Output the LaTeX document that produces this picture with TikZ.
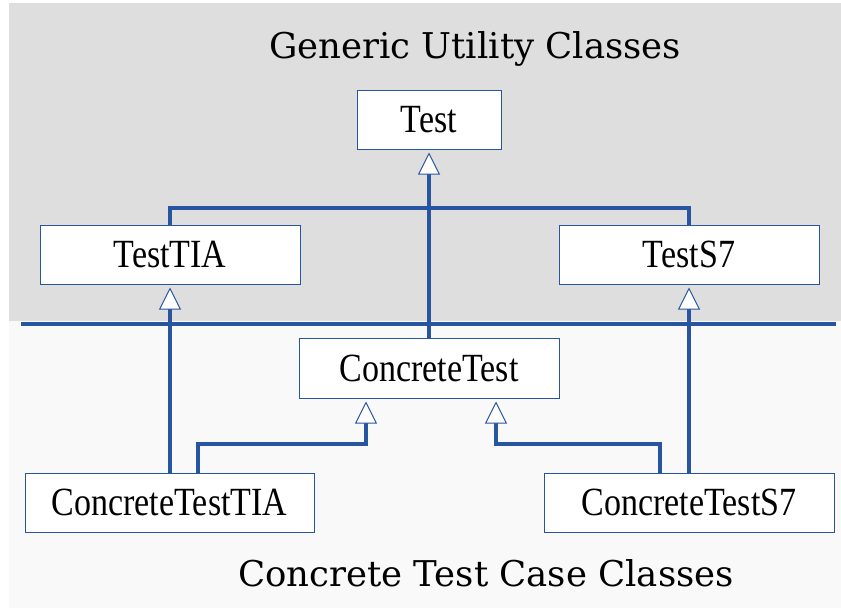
\documentclass[tikz,border=0pt]{standalone}
\usepackage{fontspec}
\usetikzlibrary{arrows.meta}
\newfontfamily\titlefont{DejaVu Serif}
\newfontfamily\boxfont[FakeStretch=0.85]{Liberation Serif}
\definecolor{umlblue}{RGB}{40,85,160}
\definecolor{topgray}{RGB}{222,222,222}
\definecolor{botgray}{RGB}{249,249,249}
\tikzset{
  cls/.style={draw=umlblue, line width=1pt, fill=white, inner sep=0pt,
    font=\boxfont\fontsize{40}{40}\selectfont},
  gen/.style={draw=umlblue, line width=3.2pt,
    -{Triangle[open, width=22pt, length=22pt, line width=1pt, fill=white]}, shorten >=3pt},
  link/.style={draw=umlblue, line width=3.2pt},
  ttl/.style={font=\titlefont\fontsize{35.5}{35.5}\selectfont, anchor=base, inner sep=0pt}
}
\begin{document}
\begin{tikzpicture}[x=1pt,y=-1pt]
\useasboundingbox (0,0) rectangle (841,608);
\fill[white] (0,0) rectangle (841,608);
\fill[topgray] (9,3) rectangle (841,321);
\fill[botgray] (9,321) rectangle (841,608);
\node[ttl] (t1) at (475,58) {Generic Utility Classes};
\node[ttl] (t2) at (486,586) {Concrete Test Case Classes};
\node[cls, minimum width=144pt, minimum height=59pt] (test) at (429,119.5) {Test};
\node[cls, minimum width=260pt, minimum height=59pt] (tia) at (170,254.5) {TestTIA};
\node[cls, minimum width=260pt, minimum height=59pt] (s7) at (689,254.5) {TestS7};
\node[cls, minimum width=260pt, minimum height=60pt] (ct) at (429,368) {ConcreteTest};
\node[cls, minimum width=289pt, minimum height=59pt] (ctt) at (169.5,502.5) {ConcreteTestTIA};
\node[cls, minimum width=290pt, minimum height=59pt] (cts) at (689,502.5) {ConcreteTestS7};
\coordinate (j) at (429,208);
\coordinate (l1) at (198,444);
\coordinate (l2) at (366,444);
\coordinate (r1) at (660,444);
\coordinate (r2) at (496,444);
\draw[link] (tia.north) |- (j);
\draw[link] (s7.north) |- (j);
\draw[gen] (ct.north) -- (test.south);
\draw[gen] (ctt.north -| tia.south) -- (tia.south);
\draw[gen] (cts.north) -- (s7.south);
\draw[gen] (ctt.north -| l1) -- (l1) -- (l2) -- (ct.south -| l2);
\draw[gen] (cts.north -| r1) -- (r1) -- (r2) -- (ct.south -| r2);
\draw[umlblue, line width=3.2pt] (21,324) -- (836,324);
\end{tikzpicture}
\end{document}
